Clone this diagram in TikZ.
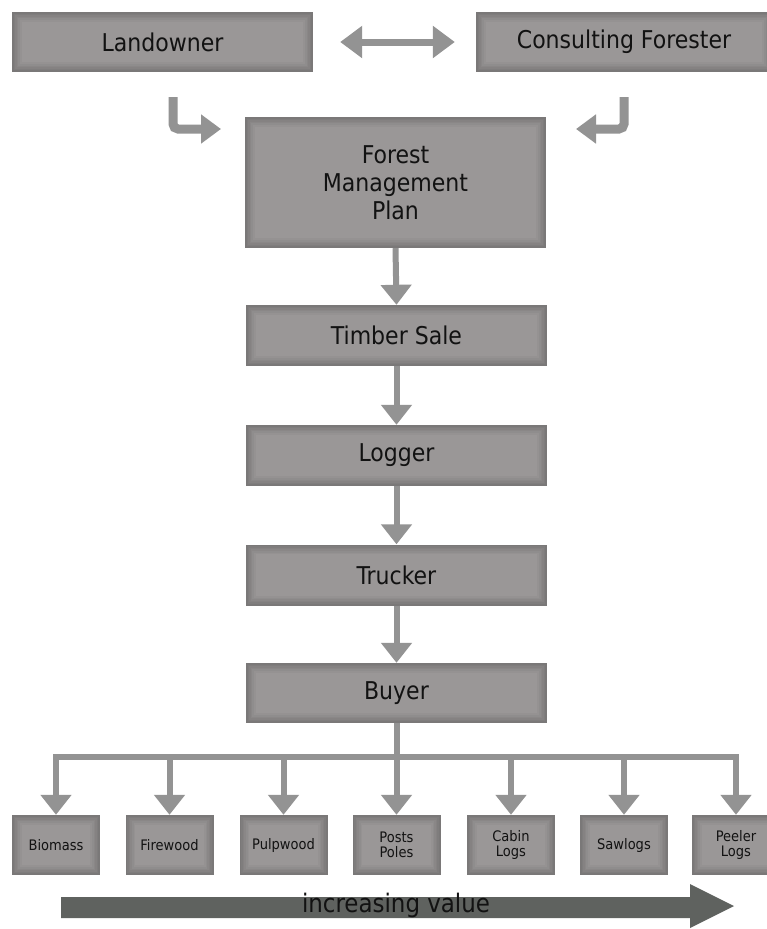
\documentclass[tikz,border=0pt]{standalone}
\usepackage{fontspec}
\setmainfont{DejaVu Sans Condensed}
\usetikzlibrary{arrows.meta}
\definecolor{boxedge}{HTML}{7A7878}
\definecolor{boxin}{HTML}{9A9797}
\definecolor{arr}{HTML}{939393}
\definecolor{txt}{HTML}{121212}
\definecolor{valc}{HTML}{5F625F}
\tikzset{
  box/.style={fill=boxedge, inner sep=0pt, text=txt, align=center,
    path picture={
      \foreach \i in {1,...,6}{
        \pgfmathsetmacro\pc{\i*100/6}
        \fill[boxin!\pc!boxedge] ([shift={({\i*1.6pt},{-\i*1.6pt})}]path picture bounding box.north west) rectangle ([shift={({-\i*1.6pt},{\i*1.6pt})}]path picture bounding box.south east);
      }
    }},
  mainbox/.style={box, minimum width=301pt, minimum height=61pt, font=\fontsize{24.5}{28}\selectfont},
  prodbox/.style={box, minimum width=88pt, minimum height=60pt, font=\fontsize{14.5}{15.5}\selectfont},
  flow/.style={draw=arr, line width=6pt, -{Triangle[width=30pt,length=20pt]}},
  bar/.style={draw=arr, line width=6pt},
  bent/.style={draw=arr, line width=9pt, rounded corners=5pt, -{Triangle[width=28pt,length=20pt]}},
  both/.style={draw=arr, line width=7pt, {Triangle[width=31pt,length=22pt]}-{Triangle[width=31pt,length=22pt]}},
}
\begin{document}
\begin{tikzpicture}[x=1pt,y=-1pt]
\useasboundingbox (0,0) rectangle (767,929);
\fill[white] (0,0) rectangle (767,929);
% top boxes
\node[mainbox, minimum width=301pt, minimum height=60pt] (land) at (162.5,42) {Landowner};
\node[mainbox, minimum width=296pt, minimum height=60pt] (cons) at (624,42) {Consulting Forester};
\draw[both, shorten <=27pt, shorten >=21pt] (land.east) -- (cons.west);
% main column
\node[mainbox, minimum height=131pt] (fmp) at (395.5,182.5) {Forest\\Management\\Plan};
\node[mainbox] (ts) at (396.5,335.5) {Timber Sale};
\node[mainbox] (log) at (396.5,455.5) {Logger};
\node[mainbox] (tru) at (396.5,575) {Trucker};
\node[mainbox, minimum height=60pt] (buy) at (396.5,693) {Buyer};
% bent arrows
\coordinate (l1) at (173,97);
\coordinate (l2) at (221,129);
\coordinate (r1) at (624,97);
\coordinate (r2) at (576,129);
\draw[bent] (l1) |- (l2);
\draw[bent] (r1) |- (r2);
% flow arrows
\draw[flow] (fmp.south) -- (ts.north);
\draw[flow] (ts.south) -- (log.north);
\draw[flow] (log.south) -- (tru.north);
\draw[flow] (tru.south) -- (buy.north);
% products
\node[prodbox] (p1) at (56,845) {Biomass};
\node[prodbox] (p2) at (169.5,845) {Firewood};
\node[prodbox] (p3) at (283.5,845) {Pulpwood};
\node[prodbox] (p4) at (396.5,845) {Posts\\Poles};
\node[prodbox] (p5) at (511,845) {Cabin\\Logs};
\node[prodbox] (p6) at (624,845) {Sawlogs};
\node[prodbox] (p7) at (736,845) {Peeler\\Logs};
\coordinate (hb) at (396.5,757);
\draw[bar] (buy.south) -- (hb);
\draw[bar] (p1.north |- hb) -- (p7.north |- hb);
\foreach \p in {p1,p2,p3,p4,p5,p6,p7}{
  \draw[flow, shorten <=-3pt] (\p.north |- hb) -- (\p.north);
}
% increasing value arrow
\fill[valc] (61,897) -- (690,897) -- (690,884) -- (734,906) -- (690,928) -- (690,918) -- (61,918) -- cycle;
\node[text=txt, font=\fontsize{25.5}{28}\selectfont, inner sep=0pt] (iv) at (396,905) {increasing value};
\end{tikzpicture}
\end{document}
